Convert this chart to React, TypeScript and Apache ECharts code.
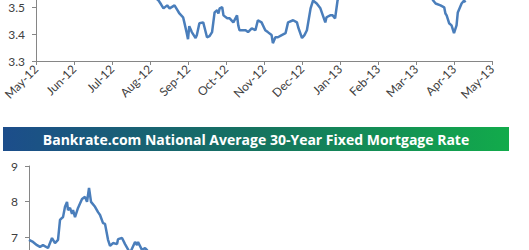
import React, { useEffect, useRef } from "react";
import * as echarts from "echarts";

// ---------- data ----------
const topMonthLabels = [
  "May-12", "Jun-12", "Jul-12", "Aug-12", "Sep-12", "Oct-12", "Nov-12",
  "Dec-12", "Jan-13", "Feb-13", "Mar-13", "Apr-13", "May-13",
];

const topYTickLabels = ["3.3", "3.4", "3.5"];

const topDates = [
  "2012-07-20", "2012-08-08", "2012-08-10", "2012-08-12", "2012-08-15", "2012-08-17",
  "2012-08-21", "2012-08-23", "2012-08-25", "2012-08-28", "2012-08-29", "2012-08-31",
  "2012-09-01", "2012-09-02", "2012-09-04", "2012-09-07", "2012-09-08", "2012-09-10",
  "2012-09-13", "2012-09-14", "2012-09-16", "2012-09-18", "2012-09-20", "2012-09-22",
  "2012-09-24", "2012-09-25", "2012-09-26", "2012-09-28", "2012-09-29", "2012-10-02",
  "2012-10-04", "2012-10-07", "2012-10-10", "2012-10-11", "2012-10-12", "2012-10-17",
  "2012-10-19", "2012-10-22", "2012-10-25", "2012-10-27", "2012-10-30", "2012-11-02",
  "2012-11-04", "2012-11-07", "2012-11-08", "2012-11-10", "2012-11-12", "2012-11-15",
  "2012-11-18", "2012-11-20", "2012-11-24", "2012-11-27", "2012-11-28", "2012-12-01",
  "2012-12-03", "2012-12-05", "2012-12-08", "2012-12-10", "2012-12-13", "2012-12-16",
  "2012-12-18", "2012-12-20", "2012-12-21", "2012-12-24", "2012-12-26", "2012-12-28",
  "2012-12-30", "2013-01-05", "2013-02-02", "2013-03-01", "2013-03-12", "2013-03-15",
  "2013-03-17", "2013-03-21", "2013-03-24", "2013-03-25", "2013-03-26", "2013-03-28",
  "2013-03-30", "2013-04-01", "2013-04-03", "2013-04-04", "2013-04-07", "2013-04-09",
  "2013-04-10",
];

const topValues = [
  3.6, 3.524, 3.51, 3.495, 3.506, 3.495,
  3.506, 3.491, 3.476, 3.462, 3.443, 3.403,
  3.381, 3.429, 3.407, 3.385, 3.396, 3.44,
  3.443, 3.425, 3.388, 3.392, 3.407, 3.48,
  3.488, 3.476, 3.495, 3.499, 3.469, 3.458,
  3.458, 3.443, 3.469, 3.432, 3.414, 3.414,
  3.407, 3.421, 3.414, 3.451, 3.443, 3.414,
  3.407, 3.396, 3.366, 3.388, 3.388, 3.396,
  3.403, 3.443, 3.451, 3.443, 3.425, 3.385,
  3.396, 3.414, 3.495, 3.524, 3.513, 3.495,
  3.469, 3.443, 3.462, 3.469, 3.469, 3.458,
  3.524, 3.6, 3.63, 3.62, 3.55, 3.524,
  3.513, 3.506, 3.499, 3.476, 3.469, 3.44,
  3.432, 3.403, 3.432, 3.48, 3.513, 3.524,
  3.517,
];

const bottomDates = [
  "1999-01-01", "1999-02-14", "1999-03-30", "1999-05-02", "1999-06-04", "1999-07-29",
  "1999-08-20", "1999-09-11", "1999-10-14", "1999-11-16", "1999-12-08", "1999-12-30",
  "2000-01-10", "2000-02-01", "2000-02-23", "2000-03-05", "2000-03-27", "2000-04-18",
  "2000-04-29", "2000-05-21", "2000-06-23", "2000-08-06", "2000-09-08", "2000-09-30",
  "2000-10-22", "2000-11-13", "2000-12-27", "2001-01-29", "2001-02-20", "2001-03-25",
  "2001-04-16", "2001-05-19", "2001-06-10", "2001-07-13", "2001-08-26", "2001-09-06",
  "2001-10-20", "2001-11-22", "2002-01-16", "2002-03-12", "2002-04-03", "2002-04-14",
  "2002-05-28", "2002-06-30", "2002-07-22", "2002-08-24",
];

const bottomValues = [
  6.92, 6.86, 6.77, 6.72, 6.77, 6.69,
  6.83, 6.97, 6.83, 6.92, 7.48, 7.54,
  7.56, 7.85, 7.99, 7.76, 7.82, 7.65,
  7.76, 7.56, 7.82, 8.07, 8.13, 7.99,
  8.38, 7.99, 7.85, 7.7, 7.62, 7.39,
  7.37, 6.92, 6.75, 6.83, 6.8, 6.94,
  6.97, 6.8, 6.55, 6.86, 6.77, 6.86,
  6.63, 6.69, 6.63, 6.46,
];

const titleText = "Bankrate.com National Average 30-Year Fixed Mortgage Rate";

// ---------- helpers ----------
function daysInMonth(y: number, m: number) {
  return new Date(y, m, 0).getDate();
}
function monthPos(d: string) {
  const [y, m, day] = d.split("-").map(Number);
  return (y - 2012) * 12 + (m - 5) + (day - 1) / daysInMonth(y, m);
}

const AXIS = "#868686";
const LABEL = "#404040";
const LINE = "#4a7ebb";
const FONT = "Lato";

function useChart(build: () => any) {
  const ref = useRef<HTMLDivElement>(null);
  useEffect(() => {
    if (!ref.current) return;
    const chart = echarts.init(ref.current, undefined, { renderer: "svg" });
    chart.setOption(build());
    return () => chart.dispose();
  }, []);
  return ref;
}

function TopChart() {
  const ref = useChart(() => ({
    animation: false,
    grid: { left: 36, top: 16, width: 456, height: 135 },
    xAxis: {
      type: "value",
      min: 0,
      max: 12,
      interval: 1,
      axisLine: { show: true, lineStyle: { color: AXIS, width: 1 } },
      axisTick: { show: true, length: 4, lineStyle: { color: AXIS } },
      splitLine: { show: false },
      axisLabel: {
        rotate: 45,
        margin: 6,
        color: LABEL,
        fontFamily: FONT,
        fontSize: 12,
        formatter: (v: number) => topMonthLabels[Math.round(v)] ?? "",
      },
    },
    yAxis: {
      type: "value",
      min: 3.3,
      max: 3.8,
      interval: 0.1,
      axisLine: { show: true, lineStyle: { color: AXIS, width: 1 } },
      axisTick: { show: true, length: 4, lineStyle: { color: AXIS } },
      splitLine: { show: false },
      axisLabel: {
        margin: 11,
        color: LABEL,
        fontFamily: FONT,
        fontSize: 12,
        formatter: (v: number) => {
          const s = v.toFixed(1);
          return topYTickLabels.includes(s) ? s : "";
        },
      },
    },
    series: [
      {
        type: "line",
        data: topDates.map((d, i) => [monthPos(d), topValues[i]]),
        showSymbol: false,
        lineStyle: { color: LINE, width: 2.5 },
      },
    ],
  }));
  return (
    <div
      ref={ref}
      style={{ position: "absolute", left: 0, top: -90, width: 529, height: 230 }}
    />
  );
}

function BottomChart() {
  const ref = useChart(() => ({
    animation: false,
    grid: { left: 29, top: 51, width: 476, height: 177.5 },
    xAxis: {
      type: "time",
      min: "1999-01-01",
      max: "2013-05-01",
      axisLine: { show: true, lineStyle: { color: AXIS } },
      axisTick: { show: false },
      axisLabel: { show: false },
      splitLine: { show: false },
    },
    yAxis: {
      type: "value",
      min: 4,
      max: 9,
      interval: 1,
      axisLine: { show: true, lineStyle: { color: AXIS, width: 1 } },
      axisTick: { show: true, length: 4, lineStyle: { color: AXIS } },
      splitLine: { show: false },
      axisLabel: {
        margin: 11,
        color: LABEL,
        fontFamily: FONT,
        fontSize: 12,
        formatter: (v: number) => (v >= 7 ? String(v) : ""),
      },
    },
    graphic: [
      {
        type: "rect",
        shape: { x: 3, y: 12, width: 506, height: 24 },
        style: {
          fill: new echarts.graphic.LinearGradient(0, 0, 1, 0, [
            { offset: 0, color: "#1c4d8b" },
            { offset: 0.5, color: "#15735f" },
            { offset: 1, color: "#12ab4b" },
          ]),
        },
      },
      {
        type: "text",
        x: 256,
        y: 24,
        style: {
          text: titleText,
          align: "center",
          verticalAlign: "middle",
          textAlign: "center",
          textVerticalAlign: "middle",
          fill: "#ffffff",
          fontFamily: "Open Sans",
          fontWeight: "bold",
          fontSize: 14,
        },
      },
    ],
    series: [
      {
        type: "line",
        data: bottomDates.map((d, i) => [d, bottomValues[i]]),
        showSymbol: false,
        lineStyle: { color: LINE, width: 2.5 },
      },
    ],
  }));
  return (
    <div
      ref={ref}
      style={{ position: "absolute", left: 0, top: 115, width: 529, height: 400 }}
    />
  );
}

export default function App() {
  return (
    <div
      style={{
        position: "fixed",
        left: 0,
        top: 0,
        width: 529,
        height: 250,
        overflow: "hidden",
        background: "#ffffff",
      }}
    >
      <TopChart />
      <BottomChart />
    </div>
  );
}
